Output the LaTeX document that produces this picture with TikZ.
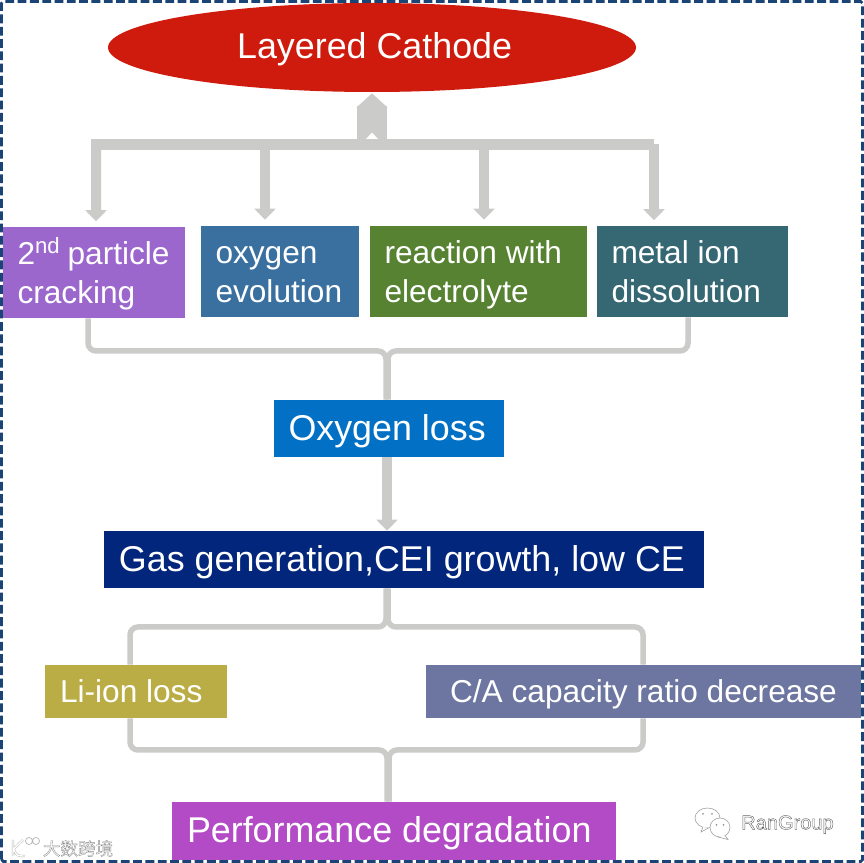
\documentclass[tikz,border=0pt]{standalone}
\usepackage{fontspec}
\setmainfont{Liberation Sans}
\newfontfamily\cjkfont{Noto Sans CJK SC}
\usepackage{xcolor}
\usetikzlibrary{arrows.meta,positioning,calc,backgrounds,shapes.geometric}
\definecolor{CatRed}{RGB}{207,27,14}
\definecolor{CrackPurple}{RGB}{155,103,205}
\definecolor{EvolBlue}{RGB}{58,112,160}
\definecolor{ReactGreen}{RGB}{86,130,50}
\definecolor{IonTeal}{RGB}{54,104,116}
\definecolor{LossBlue}{RGB}{2,112,196}
\definecolor{GasNavy}{RGB}{2,38,124}
\definecolor{LiOlive}{RGB}{187,173,70}
\definecolor{RatioSlate}{RGB}{108,118,160}
\definecolor{PerfMagenta}{RGB}{180,75,198}
\definecolor{LinkGray}{RGB}{203,203,201}
\definecolor{FrameBlue}{RGB}{27,68,118}
\tikzset{
  cell/.style={draw=none,inner ysep=0pt,inner xsep=.3cm,text=white,align=flush left,
               text height=12.2pt,text depth=0pt},
  bigcell/.style={cell,font=\fontsize{20.4}{24}\selectfont,text height=13.6pt},
  midcell/.style={cell,font=\fontsize{18}{21.8}\selectfont},
  twoline/.style={midcell,inner xsep=2.9mm,text height=13pt,text depth=21.6pt},
  busline/.style={LinkGray,line width=.22cm},
  busarrow/.style={-{Triangle[length=.22cm,width=.42cm]},LinkGray,line width=.2cm},
  brace/.style={LinkGray,line width=.11cm,rounded corners=1.6mm},
  stamp/.style={font=\fontsize{11.4}{14}\selectfont,text=white,inner sep=0pt},
  logoline/.style={black!30,double=white,double distance=.8pt,line width=.25pt},
  wechat/.style={draw=black!40,fill=white,line width=.3pt},
}
\begin{document}
\begin{tikzpicture}
  \useasboundingbox (0,0) rectangle (17.28,17.26);
  \draw[FrameBlue,line width=1.6pt,dash pattern=on 5pt off 2pt,rounded corners=1pt]
    (.03,.03) rectangle (17.25,17.23);

  \node[ellipse,bigcell,inner sep=0pt,align=center,text height=12.2pt,fill=CatRed,minimum width=10.56cm,minimum height=1.78cm] (cat) at (7.44,16.31) {\hspace{3pt}Layered Cathode};
  \node[twoline,fill=CrackPurple,text width=3.06cm,minimum height=1.82cm] (crack) at (1.88,11.81) {\mbox{2\textsuperscript{nd}\kern-1pt{} particle}\\cracking};
  \node[twoline,fill=EvolBlue,text width=2.58cm,minimum height=1.82cm] (evol) at (5.60,11.83) {oxygen\\evolution};
  \node[twoline,fill=ReactGreen,text width=3.76cm,minimum height=1.82cm] (react) at (9.57,11.83) {reaction with\\electrolyte};
  \node[twoline,fill=IonTeal,text width=3.24cm,minimum height=1.82cm] (ion) at (13.85,11.83) {metal ion\\dissolution};
  \node[bigcell,fill=LossBlue,text width=4.01cm,minimum height=1.14cm] (oxy) at (7.775,8.69) {Oxygen loss};
  \node[bigcell,fill=GasNavy,text width=11.4cm,minimum height=1.14cm] (gas) at (8.08,6.07) {Gas generation,CEI growth, low CE};
  \node[midcell,fill=LiOlive,text width=3.04cm,minimum height=1.06cm] (li) at (2.72,3.43) {Li-ion loss};
  \node[midcell,align=flush center,fill=RatioSlate,text width=8.1cm,minimum height=1.06cm] (ratio) at (12.87,3.43) {C/A capacity ratio decrease};
  \node[bigcell,fill=PerfMagenta,text width=8.28cm,minimum height=1.16cm] (perf) at (7.88,.64) {Performance degradation};

  \coordinate (busL) at (1.82,14.36);
  \coordinate (busR) at (13.08,14.36);
  \coordinate (busT) at (7.44,14.48);
  \coordinate (topL) at (7.72,10.24);
  \coordinate (topR) at (7.76,10.24);
  \coordinate (midL) at (7.72,4.72);
  \coordinate (midR) at (7.76,4.72);
  \coordinate (lowL) at (7.74,2.26);
  \coordinate (lowR) at (7.78,2.26);

  \begin{scope}[on background layer]
    \draw[brace] ([xshift=-1.2mm]crack.south) |- (topL) -- (topL |- oxy.north);
    \draw[brace] ([xshift=-.9mm]ion.south) |- (topR) -- (topR |- oxy.north);
    \draw[brace] ([xshift=-1.2mm]li.north) |- (midL) -- (midL |- gas.south);
    \draw[brace] ([xshift=-.1mm]ratio.north) |- (midR) -- (midR |- gas.south);
    \draw[brace] ([xshift=-1.2mm]li.south) |- (lowL) -- (lowL |- perf.north);
    \draw[brace] ([xshift=-.1mm]ratio.south) |- (lowR) -- (lowR |- perf.north);
  \end{scope}

  \draw[busline] (busL) -- (busR);
  \draw[busarrow] ([xshift=1mm]busL) -- ([xshift=.4mm,yshift=1.1mm]crack.north);
  \draw[busarrow] (5.30,14.36) coordinate (busB) -- ([yshift=1.2mm]busB |- evol.north);
  \draw[busarrow] (9.68,14.36) coordinate (busC) -- ([yshift=1.2mm]busC |- react.north);
  \draw[busarrow] (13.08,14.38) coordinate (busD) -- ([yshift=1.1mm]busD |- ion.north);
  \draw[LinkGray,line width=.6cm,-{Triangle[length=.28cm,width=.6cm]},shorten >=.2mm] (busT) -- (cat.south);
  \fill[white] ($(busT)+(-.12,0)$) -- ++(.12,.13) -- ++(.12,-.13) -- cycle;
  \draw[busarrow] (topL) ++(.02,0) coordinate (stem) (stem |- oxy.south) -- (stem |- gas.north);

  \node[stamp] (rangroup) at (15.75,.77) {\special{pdf:literal 2 Tr 0.25 w 0.4 G}RanGroup\special{pdf:literal 0 Tr}};
  \node[stamp,font=\cjkfont\fontsize{10}{12}\selectfont] (dashu) at (1.56,.29) {\special{pdf:literal 2 Tr 0.2 w 0.55 G}大数跨境\special{pdf:literal 0 Tr}};

  % stamp logos
  \draw[logoline] (.26,.46) -- (.26,.14) (.27,.28) -- (.46,.46) (.27,.28) .. controls (.34,.14) .. (.50,.14);
  \draw[black!30,line width=.4pt] (.58,.44) circle (.07) (.72,.44) circle (.07);
  \draw[wechat] (14.15,.90) ellipse (.25 and .2);
  \draw[wechat] (14.06,.72) -- (14.02,.62) -- (14.17,.70);
  \draw[wechat] (14.40,.71) ellipse (.2 and .19);
  \draw[wechat] (14.50,.55) -- (14.56,.47) -- (14.36,.52);
  \fill[black!40] (14.06,.98) circle (.02) (14.24,.98) circle (.02) (14.33,.76) circle (.02) (14.47,.76) circle (.02);
\end{tikzpicture}
\end{document}
